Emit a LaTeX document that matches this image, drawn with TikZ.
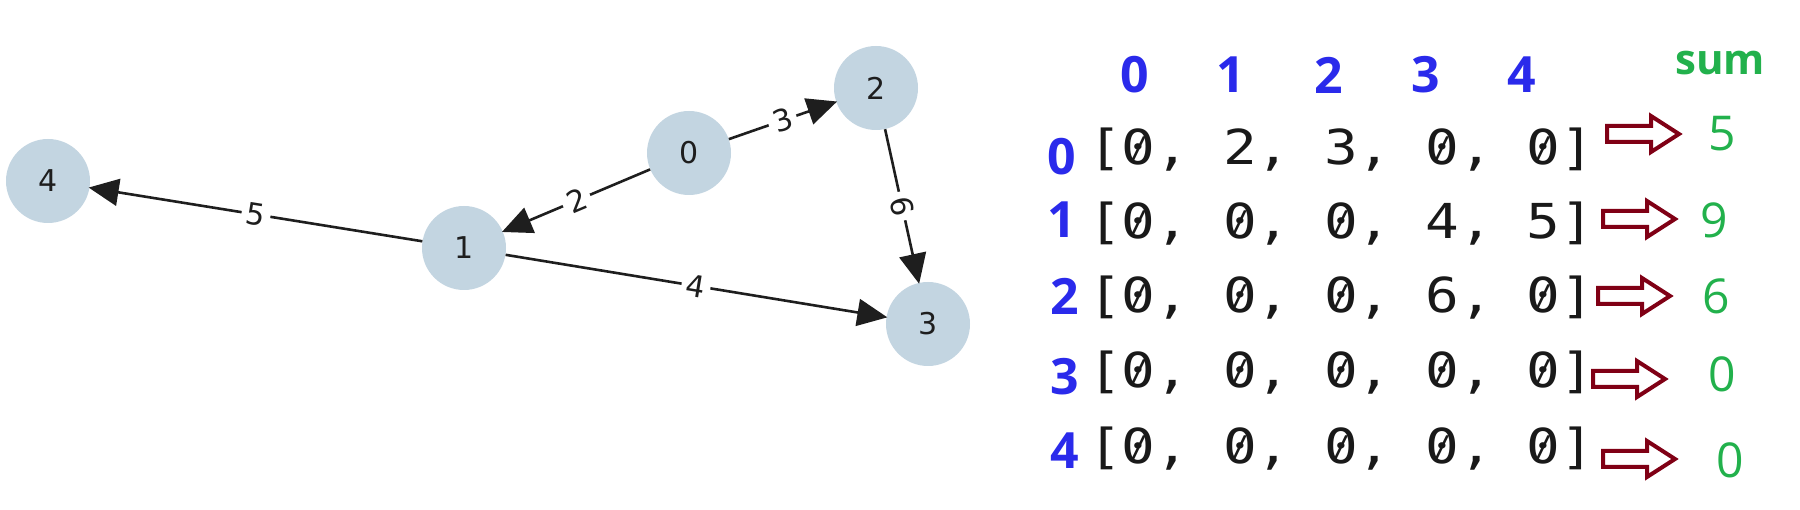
\documentclass[tikz,border=0pt]{standalone}
\usepackage{fontspec}
\setmainfont{DejaVu Sans}
\newfontfamily\monof{DejaVu Sans Mono}
\newfontfamily\osans{Open Sans}
\usetikzlibrary{arrows.meta}
\definecolor{nodeblue}{RGB}{195,213,225}
\definecolor{mblue}{RGB}{42,42,235}
\definecolor{sgreen}{RGB}{34,177,76}
\definecolor{dred}{RGB}{128,0,21}
\definecolor{ink}{RGB}{30,30,30}
\newcommand\zz{\makebox[0pt][l]{0}\makebox[\fontcharwd\font`0]{\raisebox{0.14em}{\scalebox{0.55}[0.62]{/}}}}
\tikzset{
  gnode/.style={circle, fill=nodeblue, minimum size=84pt, inner sep=0pt, text=ink, font=\fontsize{30}{32}\selectfont},
  gedge/.style={line width=2.6pt, draw=ink, -{Triangle[length=30pt,width=27pt]}, shorten >=-1pt},
  elabel/.style={fill=white, inner sep=5pt, sloped, text=ink, font=\fontsize{30}{32}\selectfont},
  head/.style={text=mblue, inner sep=0pt, font=\osans\bfseries\fontsize{50}{50}\selectfont},
  rowtxt/.style={anchor=west, inner sep=0pt, text=black!90, font=\monof\fontsize{56}{56}\selectfont},
  sumtxt/.style={text=sgreen, inner sep=0pt, font=\osans\fontsize{48}{48}\selectfont},
  sumhead/.style={text=sgreen, inner sep=0pt, font=\osans\bfseries\fontsize{42}{42}\selectfont},
  barrow/.style={draw=dred, line width=4pt, line join=miter},
  blockarrow/.pic={\draw[barrow] (0,-8) -- ++(44,0) -- ++(0,-10) -- ++(28,18) -- ++(-28,18) -- ++(0,-10) -- ++(-44,0) -- cycle;}
}
\begin{document}
\begin{tikzpicture}[x=1pt,y=-1pt]
\useasboundingbox[fill=white] (0,0) rectangle (1800,510);
% graph
\node[gnode] (n4) at (48,181) {4};
\node[gnode] (n1) at (464,248) {1};
\node[gnode] (n0) at (689,153) {0};
\node[gnode] (n2) at (876,88) {2};
\node[gnode] (n3) at (928,324) {3};
\draw[gedge] (n0) -- node[elabel]{3} (n2);
\draw[gedge] (n0) -- node[elabel]{2} (n1);
\draw[gedge] (n1) -- node[elabel]{5} (n4);
\draw[gedge] (n1) -- node[elabel]{4} (n3);
\draw[gedge] (n2) -- node[elabel]{6} (n3);
% header
\node[head] (h0) at (1135,75) {0};
\node[head] (h1) at (1231,75) {1};
\node[head] (h2) at (1329,75) {2};
\node[head] (h3) at (1426,75) {3};
\node[head] (h4) at (1522,75) {4};
% row labels
\node[head] (r0) at (1062,157) {0};
\node[head] (r1) at (1062,220) {1};
\node[head] (r2) at (1065,296) {2};
\node[head] (r3) at (1065,377) {3};
\node[head] (r4) at (1065,451) {4};
% rows
\node[rowtxt] (m0) at (1088,150) {\scalebox{1}[0.86]{[\zz, 2, 3, \zz, \zz]}};
\node[rowtxt] (m1) at (1088,224) {\scalebox{1}[0.86]{[\zz, \zz, \zz, 4, 5]}};
\node[rowtxt] (m2) at (1088,298) {\scalebox{1}[0.86]{[\zz, \zz, \zz, 6, \zz]}};
\node[rowtxt] (m3) at (1088,373) {\scalebox{1}[0.86]{[\zz, \zz, \zz, \zz, \zz]}};
\node[rowtxt] (m4) at (1088,449) {\scalebox{1}[0.86]{[\zz, \zz, \zz, \zz, \zz]}};
% arrows
\pic at (1607,134) {blockarrow};
\pic at (1603,219) {blockarrow};
\pic at (1598,296) {blockarrow};
\pic at (1593,379) {blockarrow};
\pic at (1603,459) {blockarrow};
% sums
\node[sumhead] (sh) at (1720,63) {sum};
\node[sumtxt] (s0) at (1722,134) {5};
\node[sumtxt] (s1) at (1714,220) {9};
\node[sumtxt] (s2) at (1716,296) {6};
\node[sumtxt] (s3) at (1722,374) {0};
\node[sumtxt] (s4) at (1730,460) {0};
\end{tikzpicture}
\end{document}
